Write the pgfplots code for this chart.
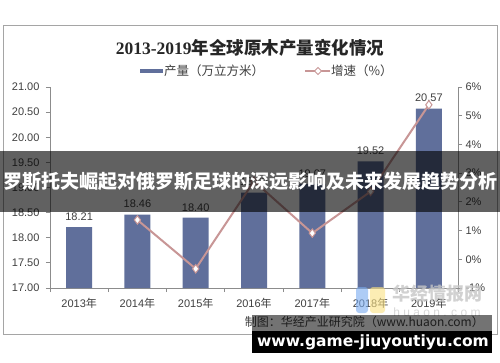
\documentclass[border=0pt]{standalone}
\usepackage{pgfplots}
\pgfplotsset{compat=1.18}
\usepackage{fontspec}
\setmainfont{Liberation Sans}
\newfontfamily\cjk{Noto Sans CJK SC}
\newfontfamily\titlelat{Liberation Serif}
\newfontfamily\dejab{DejaVu Sans}
\definecolor{barblue}{RGB}{96,111,155}
\definecolor{linepink}{RGB}{200,150,150}
\definecolor{axgray}{RGB}{140,140,140}
\definecolor{txt}{RGB}{64,64,64}
\begin{document}
\begin{tikzpicture}[x=1pt,y=1pt]
\path[use as bounding box] (0,0) rectangle (500,362);
\fill[white] (0,0) rectangle (500,362);
\draw[color={rgb,255:red,165;green,165;blue,165}, line width=1pt] (3,28) rectangle (497,336);
\node[font=\fontsize{17.5}{20}\selectfont\bfseries, text=black!85] at (250,314) {{\titlelat 2013-2019}{\cjk 年全球原木产量变化情况}};
% legend
\fill[barblue] (140,289) rectangle (163,293);
\node[anchor=west, font=\cjk\fontsize{12.5}{14}\selectfont, text=txt, inner sep=0] at (164,291) {产量（万立方米）};
\draw[linepink, line width=1.2pt] (305,291) -- (330,291);
\draw[linepink, fill=white, line width=0.8pt] (318,294.5) -- (321.5,291) -- (318,287.5) -- (314.5,291) -- cycle;
\node[anchor=west, font=\cjk\fontsize{12.5}{14}\selectfont, text=txt, inner sep=0] at (331,291) {增速（\%）};

\begin{axis}[
  at={(50pt,74pt)}, anchor=south west, scale only axis,
  width=408pt, height=201pt,
  xmin=-0.5, xmax=6.5, ymin=17, ymax=21,
  axis x line*=bottom, axis y line*=left,
  axis line style={axgray, line width=0.8pt},
  tick style={axgray, line width=0.8pt},
  tick align=outside, major tick length=4pt, minor tick length=4pt,
  xtick={0,...,6},
  xticklabels={2013{\cjk 年},2014{\cjk 年},2015{\cjk 年},2016{\cjk 年},2017{\cjk 年},2018{\cjk 年},2019{\cjk 年}},
  major x tick style={draw=none},
  minor xtick={-0.5,0.5,1.5,2.5,3.5,4.5,5.5,6.5},
  ytick={17,17.5,...,21},
  yticklabel style={/pgf/number format/fixed, /pgf/number format/fixed zerofill, /pgf/number format/precision=2, xshift=-3pt},
  /pgf/number format/assume math mode=true,
  ticklabel style={font=\fontsize{11}{13}\selectfont, text=txt},
  xticklabel style={yshift=-3pt},
  nodes near coords={\pgfmathprintnumber[fixed,fixed zerofill,precision=2]{\pgfplotspointmeta}},
  nodes near coords style={font=\fontsize{11}{13}\selectfont, text=txt, yshift=3pt},
]
\addplot[ybar, bar width=26pt, fill=barblue, draw=none] coordinates {(0,18.21) (1,18.46) (2,18.40) (3,18.90) (4,19.07) (5,19.52) (6,20.57)};
\end{axis}

\begin{axis}[
  at={(50pt,74pt)}, anchor=south west, scale only axis,
  width=408pt, height=201pt,
  xmin=-0.5, xmax=6.5, ymin=-1, ymax=6,
  axis x line=none, axis y line*=right,
  axis line style={axgray, line width=0.8pt},
  tick style={axgray, line width=0.8pt},
  tick align=outside, major tick length=4pt,
  ytick={-1,0,...,6},
  yticklabel={\pgfmathprintnumber{\tick}\%},
  /pgf/number format/assume math mode=true,
  ticklabel style={font=\fontsize{11}{13}\selectfont, text=txt},
]
\addplot[color=linepink, line width=2pt, mark=diamond*, mark size=4.2pt, mark options={fill=white, draw=linepink, line width=1pt}] coordinates {(1,1.37) (2,-0.33) (3,2.72) (4,0.91) (5,2.36) (6,5.38)};
\end{axis}

% watermark
\fill[color={rgb,255:red,120;green,170;blue,240}, opacity=0.6, rounded corners=3pt] (356,49) rectangle (368,75);
\fill[color={rgb,255:red,250;green,225;blue,130}, opacity=0.6, rounded corners=3pt] (370,49) rectangle (385,75);
\node[text=gray!45, opacity=0.8, font=\cjk\bfseries\fontsize{18}{20}\selectfont] at (437,68) {华经情报网};
\node[text=gray!30, font=\fontsize{12}{14}\selectfont] at (437,50) {h u a o n . c o m};

% source
\node[anchor=east, font=\cjk\fontsize{12}{14}\selectfont, text=txt, inner sep=0] at (484,40) {制图：华经产业研究院（www.huaon.com）};
\fill[black, opacity=0.55] (252,31) rectangle (492,47);
\fill[black] (252,9) rectangle (492,31);
\node[text=white, font=\dejab\bfseries\fontsize{15.5}{18}\selectfont] at (373,20) {www.game-jiuyoutiyu.com};

% banner
\fill[black, opacity=0.62] (0,150) rectangle (500,211);
\node[text=white, font=\cjk\bfseries\fontsize{19}{22}\selectfont] at (250,181) {罗斯托夫崛起对俄罗斯足球的深远影响及未来发展趋势分析};
\end{tikzpicture}
\end{document}
